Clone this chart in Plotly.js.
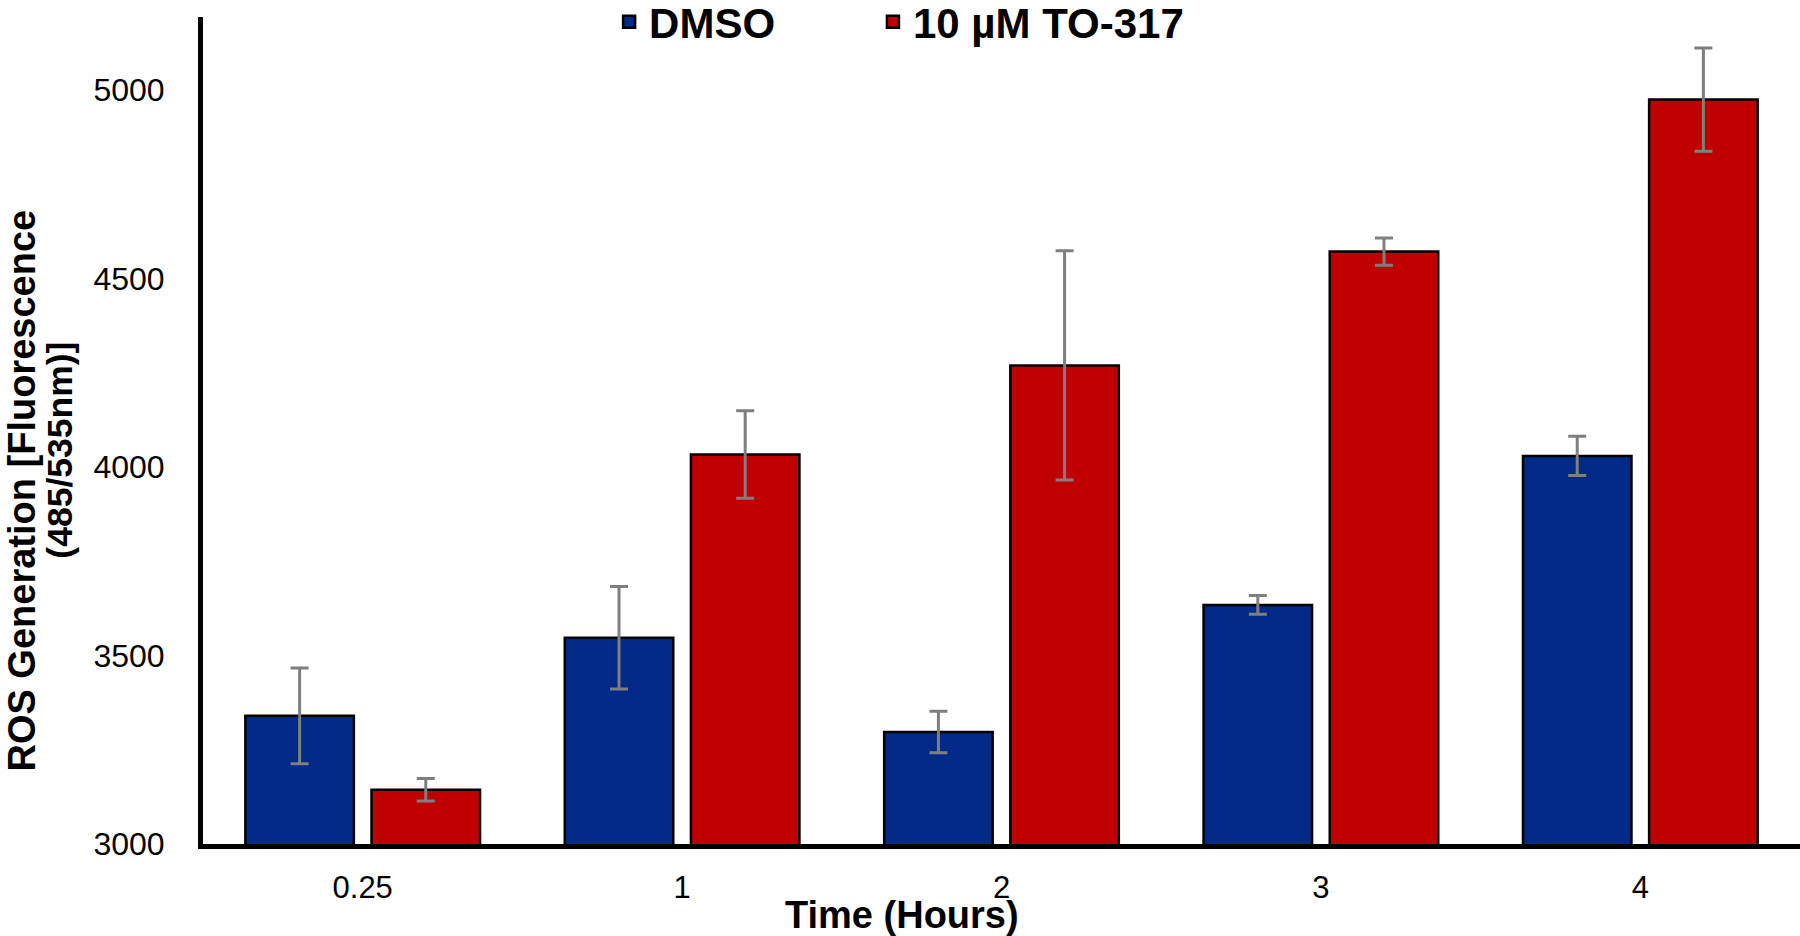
<!DOCTYPE html>
<html><head><meta charset="utf-8">
<script src="https://cdn.plot.ly/plotly-3.0.1.min.js"></script>
<style>html,body{margin:0;padding:0;background:#fff;} #chart{width:1800px;height:936px;}</style>
</head><body><div id="chart"></div>
<script>
// Data
const timeLabels = ['0.25', '1', '2', '3', '4'];
const dmsoMean = [3340, 3547, 3297, 3634, 4029];
const dmsoErr  = [127, 136, 55, 25, 52];
const toMean   = [3144, 4033, 4269, 4571, 4974];
const toErr    = [30, 116, 304, 36, 137];
const seriesNames = ['DMSO', '10 µM TO-317'];
const yTickVals = [3000, 3500, 4000, 4500, 5000];
const xTitle = 'Time (Hours)';
const yTitleLine1 = 'ROS Generation [Fluorescence';
const yTitleLine2 = '(485/535nm)]';

const FONT = 'Liberation Sans, Arial, sans-serif';
const errStyle = {type: 'data', visible: true, color: '#7F7F7F', thickness: 3, width: 9};

const traces = [
  {type: 'bar', name: seriesNames[0], x: timeLabels, y: dmsoMean, legend: 'legend',
   error_y: Object.assign({array: dmsoErr}, errStyle),
   marker: {color: '#002A86', line: {color: '#000000', width: 2.5}}},
  {type: 'bar', name: seriesNames[1], x: timeLabels, y: toMean, legend: 'legend2',
   error_y: Object.assign({array: toErr}, errStyle),
   marker: {color: '#C00000', line: {color: '#000000', width: 2.5}}}
];

const legendFont = {family: FONT, size: 42, color: '#000', weight: 'bold'};

const layout = {
  width: 1800, height: 936,
  margin: {l: 203, r: 0, t: 17, b: 92, pad: 0, autoexpand: false},
  paper_bgcolor: '#ffffff', plot_bgcolor: '#ffffff',
  barmode: 'group', bargap: 0.21, bargroupgap: 0.14,
  showlegend: true,
  legend: {orientation: 'h', xref: 'paper', yref: 'paper', x: 0.2543, xanchor: 'left', y: 1.035, yanchor: 'top',
           font: legendFont, bgcolor: 'rgba(0,0,0,0)'},
  legend2: {orientation: 'h', xref: 'paper', yref: 'paper', x: 0.4195, xanchor: 'left', y: 1.035, yanchor: 'top',
           font: legendFont, bgcolor: 'rgba(0,0,0,0)'},
  xaxis: {type: 'category', showline: true, linecolor: '#000', linewidth: 5, ticks: '', showgrid: false,
          tickfont: {family: FONT, size: 31, color: '#000'}, ticklabelstandoff: 12},
  yaxis: {range: [3000, 5193], tickvals: yTickVals, showline: true, linecolor: '#000', linewidth: 5,
          ticks: '', showgrid: false, zeroline: false,
          tickfont: {family: FONT, size: 32, color: '#000'}, ticklabelstandoff: 27},
  annotations: [
    {text: xTitle, xref: 'paper', yref: 'paper', x: 0.438, y: -0.0859, xanchor: 'center', yanchor: 'middle',
     showarrow: false, font: {family: FONT, size: 38, color: '#000', weight: 'bold'}},
    {text: yTitleLine1, xref: 'paper', yref: 'paper', x: -0.1135, y: 0.4271, xanchor: 'center', yanchor: 'middle',
     textangle: -90, showarrow: false, font: {family: FONT, size: 38, color: '#000', weight: 'bold'}},
    {text: yTitleLine2, xref: 'paper', yref: 'paper', x: -0.0895, y: 0.4757, xanchor: 'center', yanchor: 'middle',
     textangle: -90, showarrow: false, font: {family: FONT, size: 35.5, color: '#000', weight: 'bold'}}
  ]
};

Plotly.newPlot('chart', traces, layout, {displayModeBar: false, staticPlot: true});
</script>
</body></html>
